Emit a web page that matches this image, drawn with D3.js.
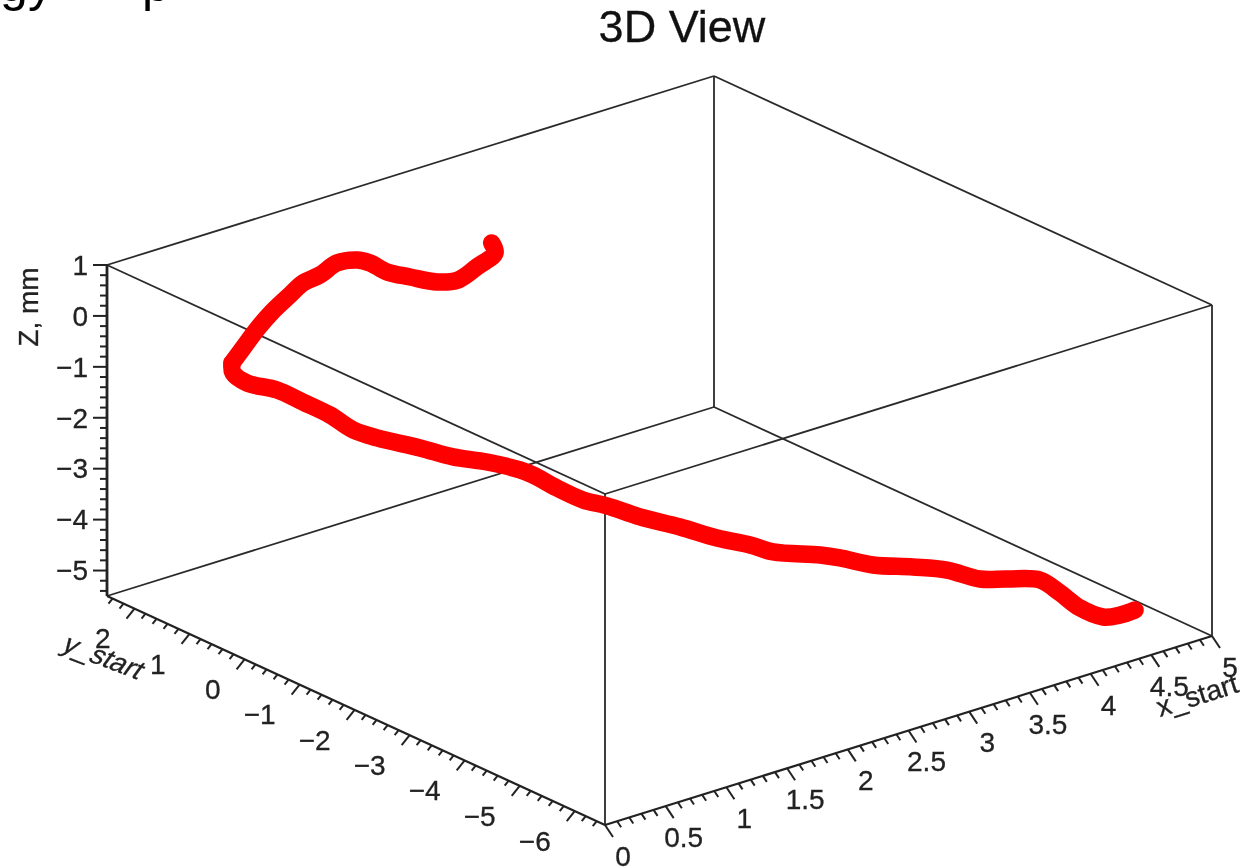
<!DOCTYPE html>
<html>
<head>
<meta charset="utf-8">
<script src="https://cdn.jsdelivr.net/npm/d3@7"></script>
<style>
html,body{margin:0;padding:0;background:#fff;overflow:hidden}
svg{display:block;filter:blur(0.55px)}
text{font-family:"Liberation Sans",Arial,sans-serif;fill:#222;stroke:#222;stroke-width:0.3px}
</style>
</head>
<body>
<svg id="chart" width="1247" height="868"></svg>
<script>
// ---- data ----
const title = "3D View";
const zLabel = "Z, mm";
const xLabel = "x_start";
const yLabel = "y_start";
const xTicks = [0, 0.5, 1, 1.5, 2, 2.5, 3, 3.5, 4, 4.5, 5];
const yTicks = [2, 1, 0, -1, -2, -3, -4, -5, -6];
const zTicks = [1, 0, -1, -2, -3, -4, -5];
const xDomain = [0, 5];
const yDomain = [2.5, -6.55];
const zDomain = [-5.5, 1];
// Track samples
const trackX = [2.489,2.516,2.368,2.212,2.039,1.816,1.627,1.487,1.380,1.215,1.075,0.935,0.828,0.680,0.564,0.441,0.350,
  0.358,0.428,0.585,0.708,0.840,0.939,1.091,1.309,1.445,1.634,1.815,1.877,1.984,2.108,2.260,2.396,2.590,2.759,2.940,3.039,
  3.290,3.363,3.545,3.738,3.928,4.063,4.195,4.376,4.451,4.570,4.669,4.764,4.842];
const trackY = [1,1,1,1,1,1,1,1,1,1,1,1,1,1,1,1,1,
  1,0.9,0.7,0.5,0.3,0.1,0,-0.3,-0.6,-0.8,-1,-1.1,-1.3,-1.5,-1.6,-1.9,-2.2,-2.5,-2.7,-2.9,
  -3.2,-3.4,-3.6,-3.9,-4.1,-4.4,-4.6,-4.8,-5,-5.1,-5.3,-5.4,-5.5];
const trackZ = [0.331,0.115,-0.05,-0.19,-0.101,0.162,0.401,0.682,0.82,0.883,0.753,0.698,0.543,0.32,0.09,-0.211,-0.437,
  -0.641,-0.84,-0.993,-1.223,-1.476,-1.743,-1.963,-2.173,-2.301,-2.442,-2.633,-2.729,-2.963,-3.19,-3.37,-3.54,-3.733,-3.925,-4.096,-4.208,
  -4.306,-4.318,-4.491,-4.524,-4.626,-4.754,-4.752,-4.807,-5.017,-5.351,-5.502,-5.484,-5.394];
const trackTurn = 16; // sharp turn at the track's leftmost sample
// Header line cropped by the top of the picture: only these glyph bottoms show
const headerGlyphs = "gyoopoooooooooooooo";
const headerX = [0,28,76,113,142,143,176,208,283,426,521,588,766,846,890,952,1011,1050,1094];
const headerY = [0.6,0.6,-0.8,-0.8,0.6,-0.8,-0.8,-0.8,-0.8,-0.8,-0.8,-0.8,-0.8,-0.8,-0.8,-0.8,-0.8,-0.8,-0.8];

// ---- oblique projection built from linear scales ----
const xToSx = d3.scaleLinear().domain(xDomain).range([0, 607]);
const xToSy = d3.scaleLinear().domain(xDomain).range([0, -189]);
const yToSx = d3.scaleLinear().domain(yDomain).range([-498, 0]);
const yToSy = d3.scaleLinear().domain(yDomain).range([-229, 0]);
const zToSy = d3.scaleLinear().domain(zDomain).range([0, -331]);
const originX = 605, originY = 825;
const P = (x, y, z) => [originX + xToSx(x) + yToSx(y), originY + xToSy(x) + yToSy(y) + zToSy(z)];

const [x0, x1] = xDomain, [y0, y1] = yDomain, [z0, z1] = zDomain;
const svg = d3.select("#chart");

// header
svg.append("text")
  .attr("x", headerX.join(" ")).attr("y", headerY.join(" "))
  .style("font-size", "50px").style("fill", "#000").style("stroke", "none").text(headerGlyphs);

// title
svg.append("text").attr("x", 682).attr("y", 42).attr("text-anchor", "middle")
  .style("font-size", "45px").style("fill", "#111").style("stroke", "#111").text(title);

// frame
const frame = [
  [[x0,y0,z1],[x1,y0,z1]],[[x1,y0,z1],[x1,y1,z1]],[[x1,y1,z1],[x0,y1,z1]],[[x0,y1,z1],[x0,y0,z1]],
  [[x0,y0,z0],[x1,y0,z0]],[[x1,y0,z0],[x1,y1,z0]],
  [[x1,y0,z0],[x1,y0,z1]],[[x1,y1,z0],[x1,y1,z1]],[[x0,y1,z0],[x0,y1,z1]]
];
const lineGen = d3.line();
svg.append("g").selectAll("path").data(frame).join("path")
  .attr("d", d => lineGen(d.map(p => P(...p))))
  .attr("fill", "none").attr("stroke", "#2a2a2a").attr("stroke-width", 1.8);

// axes
const axisG = svg.append("g").attr("stroke", "#222").attr("fill", "none");
const seg = (a, dx, dy, w) => axisG.append("line").attr("x1", a[0]).attr("y1", a[1])
  .attr("x2", a[0] + dx).attr("y2", a[1] + dy).attr("stroke-width", w);
axisG.append("path").attr("d", lineGen([P(x0,y1,z0), P(x1,y1,z0)])).attr("stroke-width", 2.2);
axisG.append("path").attr("d", lineGen([P(x0,y0,z0), P(x0,y1,z0)])).attr("stroke-width", 2.2);
axisG.append("path").attr("d", lineGen([P(x0,y0,z0), P(x0,y0,z1)])).attr("stroke-width", 2.8);

const stepsFrom = (a, b, step) => d3.range(0, Math.round(Math.abs(b - a) / step) + 1).map(i => a + (b > a ? 1 : -1) * i * step);
const isMajor = (v, list) => list.some(t => Math.abs(t - v) < 1e-6);

stepsFrom(x0, x1, 0.1).forEach(v => {
  const m = isMajor(v, xTicks);
  seg(P(v, y1, z0), m ? 8 : 4, m ? 12 : 6, 2);
});
stepsFrom(2.4, -6.4, 0.2).forEach(v => {
  const m = isMajor(v, yTicks);
  seg(P(x0, v, z0), m ? -8 : -4, m ? 10 : 5, 2);
});
stepsFrom(1, -5.4, 0.2).forEach(v => {
  const m = isMajor(v, zTicks);
  seg(P(x0, y0, v), m ? -14 : -7, 0, 2);
});

// tick labels
const fmt = v => String(v).replace("-", "\u2212");
const tl = svg.append("g").style("font-size", "28px");
tl.selectAll(".xt").data(xTicks).join("text").attr("class", "xt")
  .attr("x", d => P(d, y1, z0)[0] + 18).attr("y", d => P(d, y1, z0)[1] + 31)
  .attr("dy", "0.35em").attr("text-anchor", "middle").text(fmt);
tl.selectAll(".yt").data(yTicks).join("text").attr("class", "yt")
  .attr("x", d => P(x0, d, z0)[0] - 24).attr("y", d => P(x0, d, z0)[1] + 30)
  .attr("dy", "0.35em").attr("text-anchor", "end").text(fmt);
tl.selectAll(".zt").data(zTicks).join("text").attr("class", "zt")
  .attr("x", d => P(x0, y0, d)[0] - 19).attr("y", d => P(x0, y0, d)[1])
  .attr("dy", "0.35em").attr("text-anchor", "end").text(fmt);

// axis titles
svg.append("text").attr("transform", "translate(38,307) rotate(-90)")
  .attr("text-anchor", "middle").style("font-size", "28px").text(zLabel);
svg.append("text").attr("transform", "translate(60,650) rotate(21) skewX(-15)")
  .style("font-size", "27.5px").text(yLabel);
svg.append("text").attr("transform", "translate(1160,717) rotate(-17.5)")
  .style("font-size", "28px").text(xLabel);

// track: two smooth runs joined at the sharp turn
const track = trackX.map((x, i) => P(x, trackY[i], trackZ[i]));
const trackLine = d3.line().curve(d3.curveCatmullRom.alpha(0.5));
svg.append("g").selectAll("path")
  .data([track.slice(0, trackTurn + 1), track.slice(trackTurn)])
  .join("path").attr("d", d => trackLine(d))
  .attr("fill", "none").attr("stroke", "#ff0000").attr("stroke-width", 17.5)
  .attr("stroke-linecap", "round").attr("stroke-linejoin", "round");
</script>
</body>
</html>
